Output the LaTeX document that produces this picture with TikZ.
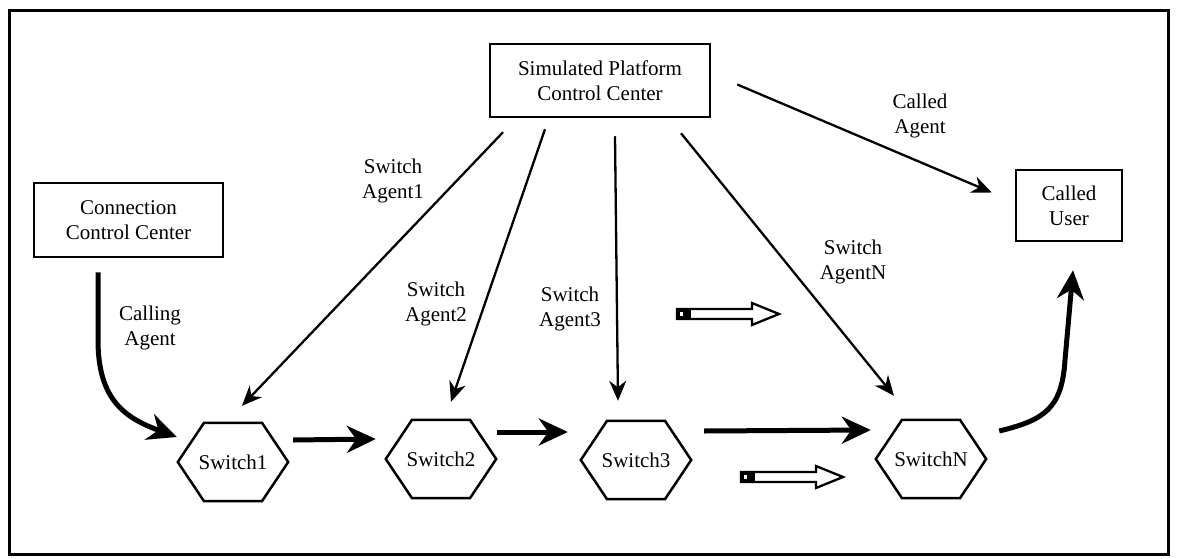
\documentclass[tikz,border=0pt]{standalone}
\usepackage{fontspec}
\newfontfamily\figfont{Liberation Serif}
\usetikzlibrary{arrows.meta}
\begin{document}
\begin{tikzpicture}[x=1pt,y=-1pt,
  txt/.style={font=\figfont\fontsize{21}{25}\selectfont},
  lbl/.style={txt, align=center, inner sep=0pt},
  boxnode/.style={txt, draw, line width=2.5pt, align=center, inner sep=0pt},
  switchnode/.style={txt, minimum width=110pt, minimum height=78pt, inner sep=0pt},
  hexline/.style={line width=2.5pt, line join=miter},
  agentarrow/.style={line width=2.3pt, -{Stealth[length=20pt,width=17pt]}},
  flowarrow/.style={line width=5pt, -{Stealth[length=29pt,width=27pt]}},
  pics/hollowarrow/.style={code={
    \draw[line width=2.3pt, fill=white, line join=miter]
      (0,-5) -- (75,-5) -- (75,-11) -- (102,0) -- (75,11) -- (75,5) -- (0,5) -- cycle;
    \fill (0,-6) rectangle (14,6);
    \fill[white] (3,-2) rectangle (6,2);
  }},
]
\useasboundingbox (0,0) rectangle (1180,559);
\draw[line width=3pt] (9,11) rectangle (1168,554);

% control centres and the called user
\node[boxnode, minimum width=220pt, minimum height=73pt] (spcc) at (600,80.5)
  {Simulated Platform\\Control Center};
\node[boxnode, minimum width=189pt, minimum height=74pt] (ccc) at (128.5,220)
  {Connection\\Control Center};
\node[boxnode, minimum width=106pt, minimum height=71pt] (cu) at (1069,205.5)
  {Called\\User};

% switches
\node[switchnode] (s1) at (233,462) {Switch1};
\node[switchnode] (s2) at (441,459) {Switch2};
\node[switchnode] (s3) at (636,460) {Switch3};
\node[switchnode] (sN) at (931,459) {SwitchN};
\foreach \n in {s1,s2,s3,sN}
  \draw[hexline] ([xshift=29pt]\n.north) -- (\n.east) -- ([xshift=29pt]\n.south)
    -- ([xshift=-29pt]\n.south) -- (\n.west) -- ([xshift=-29pt]\n.north) -- cycle;

% agent labels
\node[lbl] (la1) at (393,181) {Switch\\Agent1};
\node[lbl] (la2) at (436,304) {Switch\\Agent2};
\node[lbl] (la3) at (570,309) {Switch\\Agent3};
\node[lbl] (laN) at (853,262) {Switch\\AgentN};
\node[lbl] (lcd) at (920,116) {Called\\Agent};
\node[lbl] (lcg) at (150,328) {Calling\\Agent};

% agents sent from the platform control centre
\draw[agentarrow] ([shift={(-97,14)}]spcc.south) -- ([shift={(9,-17)}]s1.north);
\draw[agentarrow] ([shift={(-55,11)}]spcc.south) -- ([shift={(10,-18)}]s2.north);
\draw[agentarrow] ([shift={(15,18)}]spcc.south) -- ([shift={(-18,-20)}]s3.north);
\draw[agentarrow] ([shift={(81,15)}]spcc.south) -- ([shift={(-37,-24)}]sN.north);
\draw[agentarrow] ([shift={(26,4)}]spcc.east) -- ([shift={(-23,-13)}]cu.west);

% call path through the switches
\draw[flowarrow] ([shift={(-30.5,14)}]ccc.south) -- (98,340)
  .. controls (98,400) and (125,418) .. ([shift={(-1,-25)}]s1.west);
\draw[flowarrow] ([shift={(5,-22)}]s1.east) -- ([shift={(-10,-20)}]s2.west);
\draw[flowarrow] ([shift={(1,-27)}]s2.east) -- ([shift={(-13,-28)}]s3.west);
\draw[flowarrow] ([shift={(13,-29)}]s3.east) -- ([shift={(-5,-29)}]sN.west);
\draw[flowarrow] ([shift={(13,-28)}]sN.east)
  .. controls (1045,420) and (1062,408) .. (1065,360) -- ([shift={(4,28)}]cu.south);

% hollow direction markers
\pic at (677,314) {hollowarrow};
\pic at (741,477) {hollowarrow};
\end{tikzpicture}
\end{document}
